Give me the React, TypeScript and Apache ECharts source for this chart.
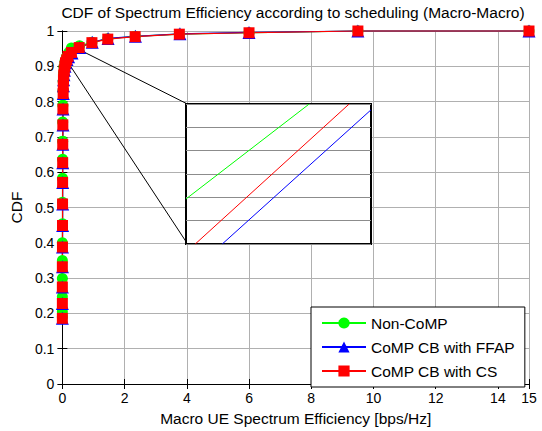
import React, { useEffect, useRef } from "react";
import * as echarts from "echarts";

// CDF points per scheduling scheme: [spectrum efficiency (bps/Hz), CDF]
const nonCoMP: [number, number][] = [
  [0.0, 0.19], [0.0, 0.205], [0.0, 0.247], [0.0, 0.299], [0.0, 0.35], [0.0, 0.4],
  [0.005, 0.454], [0.005, 0.515], [0.005, 0.583], [0.008, 0.637], [0.01, 0.688],
  [0.01, 0.742], [0.015, 0.79], [0.02, 0.83], [0.025, 0.858], [0.035, 0.88],
  [0.05, 0.898], [0.08, 0.912], [0.13, 0.926], [0.2, 0.938], [0.29, 0.952],
  [0.55, 0.958], [0.95, 0.968], [1.46, 0.978], [2.34, 0.985], [3.76, 0.991],
  [6.0, 0.995], [9.5, 1.0], [15, 1.0],
];

const compFFAP: [number, number][] = [
  [0.0, 0.186], [0.0, 0.228], [0.0, 0.275], [0.005, 0.332], [0.005, 0.388],
  [0.008, 0.449], [0.01, 0.51], [0.01, 0.571], [0.012, 0.627], [0.015, 0.679],
  [0.02, 0.734], [0.02, 0.779], [0.03, 0.823], [0.035, 0.845], [0.04, 0.862],
  [0.05, 0.876], [0.065, 0.889], [0.085, 0.9], [0.11, 0.91], [0.15, 0.919],
  [0.2, 0.927], [0.31, 0.938], [0.56, 0.953], [0.96, 0.968], [1.47, 0.979],
  [2.35, 0.985], [3.78, 0.992], [6.0, 0.996], [9.5, 1.0], [15, 1.0],
];

const compCS: [number, number][] = [
  [0.0, 0.186], [0.0, 0.228], [0.0, 0.275], [0.0, 0.332], [0.003, 0.388],
  [0.005, 0.449], [0.006, 0.51], [0.008, 0.571], [0.01, 0.627], [0.012, 0.679],
  [0.015, 0.734], [0.018, 0.779], [0.025, 0.823], [0.03, 0.845], [0.035, 0.862],
  [0.045, 0.876], [0.06, 0.889], [0.08, 0.9], [0.1, 0.91], [0.14, 0.918],
  [0.18, 0.928], [0.29, 0.939], [0.54, 0.953], [0.95, 0.967], [1.46, 0.977],
  [2.34, 0.984], [3.76, 0.991], [6.0, 0.995], [9.5, 1.0], [15, 1.0],
];

// magnified view segments (inset axes units)
const insetNonCoMP: [number, number][] = [[0.0, 0.9193], [0.0666, 0.96]];
const insetFFAP: [number, number][] = [[0.0196, 0.9], [0.1, 0.9575]];
const insetCS: [number, number][] = [[0.005, 0.9], [0.0882, 0.96]];

// leader lines from the curve to the inset box corners
const leaderTop: [number, number][] = [[0.66, 0.942], [4.0, 0.794]];
const leaderBottom: [number, number][] = [[0.13, 0.918], [4.0, 0.4]];

const seriesNames = ["Non-CoMP", "CoMP CB with FFAP", "CoMP CB with CS"];
const titleText = "CDF of Spectrum Efficiency according to scheduling (Macro-Macro)";
const xName = "Macro UE Spectrum Efficiency [bps/Hz]";
const yName = "CDF";

const FONT = "'Liberation Sans', Arial, Helvetica, sans-serif";
const GREEN = "#00ff00";
const BLUE = "#0000ff";
const RED = "#ff0000";
const GRID_GREY = "#b0b0b0";

export default function App() {
  const ref = useRef<HTMLDivElement>(null);

  useEffect(() => {
    if (!ref.current) return;
    const chart = echarts.init(ref.current, undefined, { renderer: "svg" });

    const boxAxisX = {
      type: "value" as const,
      min: 0,
      max: 15,
      interval: 2,
      gridIndex: 0,
      axisLine: { show: true, lineStyle: { color: "#000", width: 1 } },
      axisTick: { show: true, inside: true, length: 5, lineStyle: { color: "#000" } },
    };
    const boxAxisY = {
      type: "value" as const,
      min: 0,
      max: 1,
      interval: 0.1,
      gridIndex: 0,
      axisLine: { show: true, lineStyle: { color: "#000", width: 1 } },
      axisTick: { show: true, inside: true, length: 5, lineStyle: { color: "#000" } },
    };

    const curve = (name: string, data: [number, number][], color: string, symbol: string, size: number) => ({
      name,
      type: "line" as const,
      xAxisIndex: 0,
      yAxisIndex: 0,
      data,
      symbol,
      symbolSize: size,
      showAllSymbol: true,
      clip: false,
      z: 3,
      lineStyle: { color, width: 1.2 },
      itemStyle: { color, borderWidth: 0 },
    });

    const insetLine = (data: [number, number][], color: string) => ({
      type: "line" as const,
      xAxisIndex: 2,
      yAxisIndex: 2,
      data,
      symbol: "none",
      z: 8,
      silent: true,
      lineStyle: { color, width: 1 },
    });

    const leader = (data: [number, number][]) => ({
      type: "line" as const,
      xAxisIndex: 0,
      yAxisIndex: 0,
      data,
      symbol: "none",
      z: 2,
      silent: true,
      lineStyle: { color: "#000", width: 1 },
    });

    chart.setOption({
      animation: false,
      backgroundColor: "#ffffff",
      textStyle: { fontFamily: FONT },
      graphic: [
        {
          type: "text",
          x: 293,
          y: 12,
          style: {
            text: titleText,
            fontSize: 15.5,
            fontFamily: FONT,
            fill: "#000",
            textAlign: "center",
            textVerticalAlign: "middle",
          },
        },
      ],
      grid: [
        { left: 61, top: 31, width: 468, height: 355, show: false },
        {
          left: 186,
          top: 104,
          width: 185,
          height: 140,
          show: true,
          z: 5,
          backgroundColor: "#ffffff",
          borderColor: "#000",
          borderWidth: 2,
        },
      ],
      xAxis: [
        {
          ...boxAxisX,
          position: "bottom",
          name: xName,
          nameLocation: "middle",
          nameGap: 26,
          nameTextStyle: { fontSize: 15.5, color: "#000", fontFamily: FONT },
          axisLabel: { fontSize: 14, color: "#000", margin: 7, fontFamily: FONT },
          splitLine: { show: true, lineStyle: { color: GRID_GREY, width: 1 } },
        },
        {
          ...boxAxisX,
          position: "top",
          axisLabel: { show: false },
          splitLine: { show: false },
        },
        {
          type: "value",
          gridIndex: 1,
          min: 0,
          max: 0.1,
          z: 6,
          axisLine: { show: false },
          axisTick: { show: false },
          axisLabel: { show: false },
          splitLine: { show: false },
        },
      ],
      yAxis: [
        {
          ...boxAxisY,
          position: "left",
          name: yName,
          nameLocation: "middle",
          nameGap: 38,
          nameRotate: 90,
          nameTextStyle: { fontSize: 15.5, color: "#000", fontFamily: FONT },
          axisLabel: { fontSize: 14, color: "#000", margin: 8, fontFamily: FONT },
          splitLine: { show: true, lineStyle: { color: GRID_GREY, width: 1 } },
        },
        {
          ...boxAxisY,
          position: "right",
          axisLabel: { show: false },
          splitLine: { show: false },
        },
        {
          type: "value",
          gridIndex: 1,
          min: 0.9,
          max: 0.96,
          interval: 0.01,
          z: 6,
          axisLine: { show: false },
          axisTick: { show: false },
          axisLabel: { show: false },
          splitLine: { show: true, lineStyle: { color: "#8c8c8c", width: 1 } },
        },
      ],
      legend: {
        data: seriesNames,
        orient: "vertical",
        left: 311,
        top: 307,
        padding: [8, 10, 8, 10],
        itemWidth: 44,
        itemHeight: 14,
        itemGap: 8,
        backgroundColor: "#ffffff",
        borderColor: "#000",
        borderWidth: 1,
        borderRadius: 0,
        selectedMode: false,
        textStyle: { fontSize: 15.5, color: "#000", fontFamily: FONT },
      },
      series: [
        leader(leaderTop),
        leader(leaderBottom),
        curve(seriesNames[0], nonCoMP, GREEN, "circle", 11),
        curve(seriesNames[1], compFFAP, BLUE, "triangle", 13),
        curve(seriesNames[2], compCS, RED, "rect", 11),
        insetLine(insetNonCoMP, GREEN),
        insetLine(insetFFAP, BLUE),
        insetLine(insetCS, RED),
      ],
    });

    return () => chart.dispose();
  }, []);

  return (
    <div
      ref={ref}
      style={{ position: "fixed", left: 0, top: 0, width: 542, height: 431 }}
    />
  );
}
